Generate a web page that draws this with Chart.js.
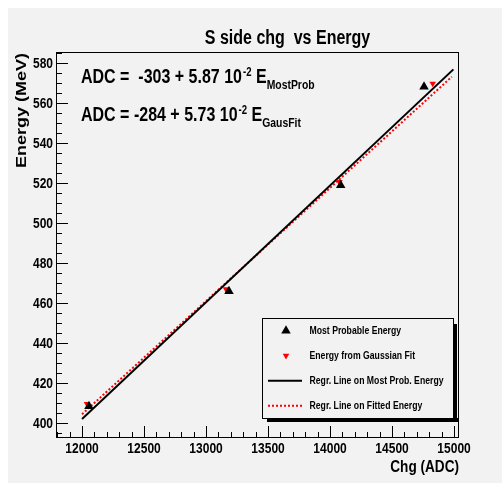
<!DOCTYPE html>
<html>
<head>
<meta charset="utf-8">
<script src="https://cdn.jsdelivr.net/npm/chart.js@4"></script>
<style>
  html, body { margin: 0; padding: 0; background: #fff; }
  #wrap { width: 502px; height: 483px; }
</style>
</head>
<body>
<div id="wrap"><canvas id="c" width="502" height="483"></canvas></div>
<script>
// ===== S side chg vs Energy =====
const xTicks = [12000, 12500, 13000, 13500, 14000, 14500, 15000];
const yTicks = [400, 420, 440, 460, 480, 500, 520, 540, 560, 580];

// puntos medidos
const mostProbX = [12056, 13185, 14086, 14758];
const mostProbY = [408.4, 466.0, 519.0, 568.3];
const gausFitX = [12040, 13161, 14075, 14828];
const gausFitY = [409.6, 467.0, 520.7, 569.9];

// rectas de regresion (extremos)
const regrMostX = [12000, 14995];
const regrMostY = [402.0, 577.0];
const regrFitX = [12000, 14982];
const regrFitY = [404.4, 573.3];

const legendLabels = [
    'Most Probable Energy',
    'Energy from Gaussian Fit',
    'Regr. Line on Most Prob. Energy',
    'Regr. Line on Fitted Energy'
];

const BG = '#f2f2f2';
const SQ = 0.8; // compresion horizontal del texto (estilo ROOT)
const FONT = '"Liberation Sans", Arial, sans-serif';

const pts = (xs, ys) => xs.map((x, i) => ({ x: x, y: ys[i] }));

function sqText(ctx, txt, x, y, size, align, base, sq) {
    ctx.save();
    ctx.translate(x, y);
    ctx.scale(sq || SQ, 1);
    ctx.font = 'bold ' + size + 'px ' + FONT;
    ctx.textAlign = align || 'left';
    ctx.textBaseline = base || 'alphabetic';
    ctx.fillText(txt, 0, 0);
    ctx.restore();
}

// texto con super/subindices
function richText(ctx, parts, x, y) {
    let cx = x;
    parts.forEach(p => {
        ctx.save();
        ctx.font = 'bold ' + p.size + 'px ' + FONT;
        const w = ctx.measureText(p.t).width * SQ;
        ctx.translate(cx, y + (p.dy || 0));
        ctx.scale(SQ, 1);
        ctx.textBaseline = 'alphabetic';
        ctx.fillStyle = '#000';
        ctx.fillText(p.t, 0, 0);
        ctx.restore();
        cx += w + (p.gap || 0);
    });
    return cx;
}

const rootPlugin = {
    id: 'rootStyle',
    beforeDraw(chart) {
        const ctx = chart.ctx;
        ctx.save();
        ctx.fillStyle = '#fff';
        ctx.fillRect(0, 0, chart.width, chart.height);
        ctx.fillStyle = BG;
        ctx.fillRect(8, 8, chart.width - 8, chart.height - 8);
        ctx.restore();
    },
    beforeDatasetsDraw(chart) {
        const ctx = chart.ctx;
        const a = chart.chartArea;
        const xs = chart.scales.x, ys = chart.scales.y;
        ctx.save();
        ctx.strokeStyle = '#000';
        ctx.lineWidth = 1;
        ctx.strokeRect(Math.round(a.left) + 0.5, Math.round(a.top) + 0.5,
            Math.round(a.right - a.left) - 1, Math.round(a.bottom - a.top) - 1);
        ctx.beginPath();
        // ticks hacia dentro (x cada 100, y cada 5)
        for (let v = Math.ceil(xs.min / 100) * 100; v <= xs.max; v += 100) {
            const px = Math.round(xs.getPixelForValue(v)) + 0.5;
            const len = v % 500 === 0 ? 12 : 6;
            ctx.moveTo(px, a.bottom);
            ctx.lineTo(px, a.bottom - len);
        }
        for (let v = Math.ceil(ys.min / 5) * 5; v <= ys.max; v += 5) {
            const py = Math.round(ys.getPixelForValue(v)) + 0.5;
            const len = v % 20 === 0 ? 12 : 6;
            ctx.moveTo(a.left, py);
            ctx.lineTo(a.left + len, py);
        }
        ctx.stroke();

        // etiquetas de ticks desde las escalas
        ctx.fillStyle = '#000';
        xs.ticks.forEach(t => {
            sqText(ctx, String(t.value), xs.getPixelForValue(t.value), a.bottom + 11, 15, 'center', 'middle');
        });
        ys.ticks.forEach(t => {
            sqText(ctx, String(t.value), a.left - 3, ys.getPixelForValue(t.value) + 0.5, 15, 'right', 'middle');
        });
        ctx.restore();
    },
    afterDraw(chart) {
        const ctx = chart.ctx;
        const a = chart.chartArea;
        ctx.save();
        ctx.fillStyle = '#000';

        // titulo
        sqText(ctx, 'S side chg  vs Energy', 287.5, 43.5, 20, 'center');

        // titulos de ejes
        sqText(ctx, 'Chg (ADC)', a.right, 471.5, 17, 'right');
        ctx.save();
        ctx.translate(22, a.top + 1);
        ctx.scale(SQ, 1);
        ctx.rotate(-Math.PI / 2);
        ctx.font = 'bold 18px ' + FONT;
        ctx.textAlign = 'right';
        ctx.textBaseline = 'middle';
        ctx.fillText('Energy (MeV)', 0, 0);
        ctx.restore();

        // ecuaciones
        richText(ctx, [
            { t: 'ADC =  -303 + 5.87 10', size: 20, gap: 1 },
            { t: '-2', size: 12, dy: -7 },
            { t: ' E', size: 20 },
            { t: 'MostProb', size: 13, dy: 6 }
        ], 81, 83);
        richText(ctx, [
            { t: 'ADC = -284 + 5.73 10', size: 20, gap: 1 },
            { t: '-2', size: 12, dy: -7 },
            { t: ' E', size: 20 },
            { t: 'GausFit', size: 13, dy: 6 }
        ], 81, 120.5);

        // leyenda estilo ROOT
        const L = { x: 262, y: 318, w: 191, h: 100 };
        ctx.fillStyle = '#000';
        ctx.fillRect(L.x + 5, L.y + L.h, L.w, 4);
        ctx.fillRect(L.x + L.w, L.y + 6, 4, L.h - 2);
        ctx.fillStyle = BG;
        ctx.fillRect(L.x, L.y, L.w, L.h);
        ctx.strokeStyle = '#000';
        ctx.lineWidth = 1;
        ctx.strokeRect(L.x + 0.5, L.y + 0.5, L.w, L.h);

        // ancho del texto mas largo en la referencia: ~134 px
        ctx.font = 'bold 11.5px ' + FONT;
        const legSq = 134 / ctx.measureText(legendLabels[2]).width;

        const rowY = [330.7, 355.7, 380.7, 405.7];
        const ds = chart.data.datasets;
        ds.forEach((d, i) => {
            const y = rowY[i];
            ctx.save();
            if (d.showLine) {
                ctx.strokeStyle = d.borderColor;
                ctx.lineWidth = d.borderWidth;
                ctx.setLineDash(d.borderDash || []);
                ctx.beginPath();
                ctx.moveTo(268, y);
                ctx.lineTo(302, y);
                ctx.stroke();
            } else {
                ctx.fillStyle = d.backgroundColor;
                ctx.strokeStyle = d.borderColor;
                Chart.helpers.drawPoint(ctx, {
                    pointStyle: d.pointStyle, rotation: d.rotation || 0,
                    radius: d.pointRadius, borderWidth: 0
                }, 286, y);
            }
            ctx.restore();
            ctx.fillStyle = '#000';
            sqText(ctx, d.label, 309.5, y, 11.5, 'left', 'middle', legSq);
        });
        ctx.restore();
    }
};

new Chart(document.getElementById('c'), {
    type: 'scatter',
    data: {
        datasets: [
            {
                label: legendLabels[0], data: pts(mostProbX, mostProbY),
                showLine: false, pointStyle: 'triangle', pointRadius: 5.5,
                backgroundColor: '#000', borderColor: '#000', borderWidth: 0
            },
            {
                label: legendLabels[1], data: pts(gausFitX, gausFitY),
                showLine: false, pointStyle: 'triangle', rotation: 180, pointRadius: 3.8,
                backgroundColor: '#ff0000', borderColor: '#ff0000', borderWidth: 0
            },
            {
                label: legendLabels[2], data: pts(regrMostX, regrMostY),
                showLine: true, borderColor: '#000', borderWidth: 2, pointRadius: 0
            },
            {
                label: legendLabels[3], data: pts(regrFitX, regrFitY),
                showLine: true, borderColor: '#ff0000', borderWidth: 2,
                borderDash: [2, 2], pointRadius: 0
            }
        ]
    },
    options: {
        responsive: false,
        animation: false,
        layout: { padding: { top: 52, right: 43, left: 0, bottom: 0 } },
        plugins: { legend: { display: false }, title: { display: false }, tooltip: { enabled: false } },
        scales: {
            x: {
                type: 'linear', min: 11790, max: 15040,
                grid: { display: false, drawTicks: false },
                border: { display: false },
                ticks: { display: false },
                afterBuildTicks: s => { s.ticks = xTicks.map(v => ({ value: v })); },
                afterFit: s => { s.height = 45; }
            },
            y: {
                type: 'linear', min: 392.5, max: 585.7,
                grid: { display: false, drawTicks: false },
                border: { display: false },
                ticks: { display: false },
                afterBuildTicks: s => { s.ticks = yTicks.map(v => ({ value: v })); },
                afterFit: s => { s.width = 56; }
            }
        }
    },
    plugins: [rootPlugin]
});
</script>
</body>
</html>
